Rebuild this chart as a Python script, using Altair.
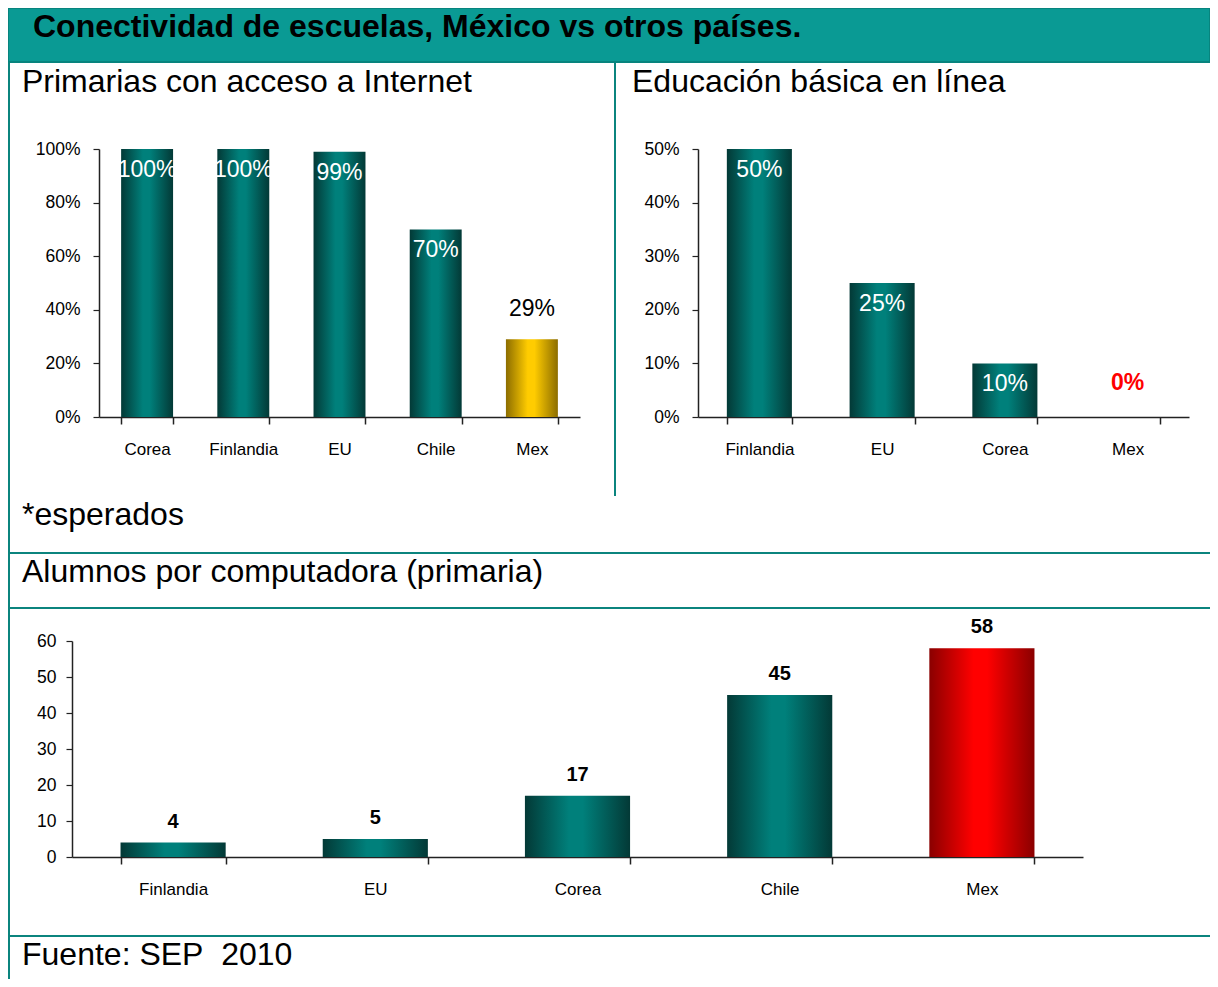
import altair as alt
import pandas as pd

# ---------------- data ----------------
cats_internet = ["Corea", "Finlandia", "EU", "Chile", "Mex"]
vals_internet = [1.00, 1.00, 0.99, 0.70, 0.29]

cats_online = ["Finlandia", "EU", "Corea", "Mex"]
vals_online = [0.50, 0.25, 0.10, 0.00]

cats_pc = ["Finlandia", "EU", "Corea", "Chile", "Mex"]
vals_pc = [4, 5, 17, 45, 58]

ticks_internet = [0, 0.2, 0.4, 0.6, 0.8, 1.0]
ticks_online = [0, 0.1, 0.2, 0.3, 0.4, 0.5]
ticks_pc = [0, 10, 20, 30, 40, 50, 60]

title_main = "Conectividad de escuelas, México vs otros países."
title_internet = "Primarias con acceso a Internet"
title_online = "Educación básica en línea"
note_text = "*esperados"
title_pc = "Alumnos por computadora (primaria)"
source_text = "Fuente: SEP\u00a0 2010"

df_internet = pd.DataFrame({"cat": cats_internet, "val": vals_internet})
df_online = pd.DataFrame({"cat": cats_online, "val": vals_online})
df_pc = pd.DataFrame({"cat": cats_pc, "val": vals_pc})
one = pd.DataFrame({"k": [0]})

# ---------------- layout / style ----------------
W, H = 1202, 971
FONT = "Liberation Sans"
LINE = "#0b847e"


def px(v):
    return v - 8


def grad(edge, mid):
    return alt.Gradient(
        gradient="linear", x1=0, x2=1, y1=0, y2=0,
        stops=[
            alt.GradientStop(color=edge, offset=0),
            alt.GradientStop(color=mid, offset=0.42),
            alt.GradientStop(color=mid, offset=0.55),
            alt.GradientStop(color=edge, offset=1),
        ],
    )


TEAL = grad("#033936", "#00807b")
GOLD = grad("#8c6d00", "#ffcc00")
RED = grad("#8a0000", "#ff0000")


def panel(df, cats, ydom, yrange, xrange, ticks, fmt, pad, hl_cat, hl_grad, ylab_pad):
    xs = alt.Scale(domain=cats, range=xrange, paddingInner=pad, paddingOuter=pad / 2)
    ys = alt.Scale(domain=ydom, range=yrange, nice=False, zero=True)
    xaxis = alt.Axis(orient="bottom", offset=-(H - yrange[0]), title=None, labelAngle=0,
                     tickBand="extent", tickSize=7, labelPadding=17, labelFont=FONT,
                     labelFontSize=17, labelColor="black", domainColor="#222",
                     tickColor="#222", domainWidth=1.6, tickWidth=1.5, grid=False)
    yaxis = alt.Axis(orient="left", offset=-xrange[0], values=ticks, format=fmt, title=None,
                     tickSize=6, labelPadding=ylab_pad, labelFont=FONT, labelFontSize=17.5,
                     labelColor="black", domainColor="#222", tickColor="#222",
                     domainWidth=1.5, tickWidth=1.2, grid=False)
    base = alt.Chart(df)
    main = base.transform_filter(alt.datum.cat != hl_cat).mark_bar(color=TEAL).encode(
        x=alt.X("cat:N", scale=xs, axis=xaxis),
        y=alt.Y("val:Q", scale=ys, axis=yaxis),
    )
    layers = [main]
    if hl_grad is not None:
        layers.append(
            base.transform_filter(alt.datum.cat == hl_cat).mark_bar(color=hl_grad).encode(
                x=alt.X("cat:N", scale=xs, axis=None),
                y=alt.Y("val:Q", scale=ys, axis=None),
            )
        )
    return layers, xs, ys


def value_text(df, xs, ys, keep, fmt, size, color, dy, weight="normal"):
    src = alt.Chart(df)
    if keep is not None:
        src = src.transform_filter(keep)
    return src.mark_text(font=FONT, fontSize=size, fontWeight=weight, color=color,
                         baseline="middle", dy=dy).encode(
        x=alt.X("cat:N", scale=xs, axis=None),
        y=alt.Y("val:Q", scale=ys, axis=None),
        text=alt.Text("val:Q", format=fmt))


# Chart 1
l1, xs1, ys1 = panel(df_internet, cats_internet, [0, 1], [px(417), px(149)], [px(99), px(580)],
                     ticks_internet, ".0%", 0.46, "Mex", GOLD, 13)
t1_in = value_text(df_internet, xs1, ys1, alt.datum.cat != "Mex", ".0%", 23, "white", 21)
t1_out = value_text(df_internet, xs1, ys1, alt.datum.cat == "Mex", ".0%", 23, "black", -30)

# Chart 2
l2, xs2, ys2 = panel(df_online, cats_online, [0, 0.5], [px(417), px(149)], [px(698), px(1189)],
                     ticks_online, ".0%", 0.47, "none", None, 13)
t2_in = value_text(df_online, xs2, ys2, alt.datum.cat != "Mex", ".0%", 23, "white", 21)
t2_out = value_text(df_online, xs2, ys2, alt.datum.cat == "Mex", ".0%", 23, "#ff0000", -34, "bold")

# Chart 3
l3, xs3, ys3 = panel(df_pc, cats_pc, [0, 60], [px(857), px(641)], [px(72), px(1083)],
                     ticks_pc, "d", 0.48, "Mex", RED, 10)
t3 = value_text(df_pc, xs3, ys3, None, "d", 20, "black", -21, "bold")


# ---------------- decorations ----------------
def hrule(y):
    return alt.Chart(one).mark_rule(color=LINE, strokeWidth=2).encode(
        x=alt.value(0), x2=alt.value(W), y=alt.value(y))


def label(s, x, y, size, weight="normal"):
    return alt.Chart(one).mark_text(text=s, font=FONT, fontSize=size, fontWeight=weight,
                                    color="black", align="left", baseline="alphabetic").encode(
        x=alt.value(x), y=alt.value(y))


header = alt.Chart(one).mark_rect(fill="#0a9a94", stroke="#07847e", strokeWidth=2).encode(
    x=alt.value(0), x2=alt.value(W), y=alt.value(0), y2=alt.value(px(62)))
left_border = alt.Chart(one).mark_rule(color=LINE, strokeWidth=2).encode(
    x=alt.value(1), y=alt.value(px(62)), y2=alt.value(H))
divider = alt.Chart(one).mark_rule(color=LINE, strokeWidth=2).encode(
    x=alt.value(px(615)), y=alt.value(px(62)), y2=alt.value(px(496)))

decor = [
    header, left_border, divider,
    hrule(px(553)), hrule(px(608)), hrule(px(936)),
    label(title_main, px(33), px(37), 32, "bold"),
    label(title_internet, px(22), px(92), 32),
    label(title_online, px(632), px(92), 32),
    label(note_text, px(22), px(525), 32),
    label(title_pc, px(22), px(582), 32),
    label(source_text, px(22), px(965), 32),
]

chart = alt.layer(
    *decor, *l1, t1_in, t1_out, *l2, t2_in, t2_out, *l3, t3
).resolve_scale(
    x="independent", y="independent"
).properties(
    width=W, height=H, autosize=alt.AutoSizeParams(type="none"), padding=0
).configure_view(stroke="transparent")

chart.save("out.html", embed_options={"renderer": "svg", "actions": False})
